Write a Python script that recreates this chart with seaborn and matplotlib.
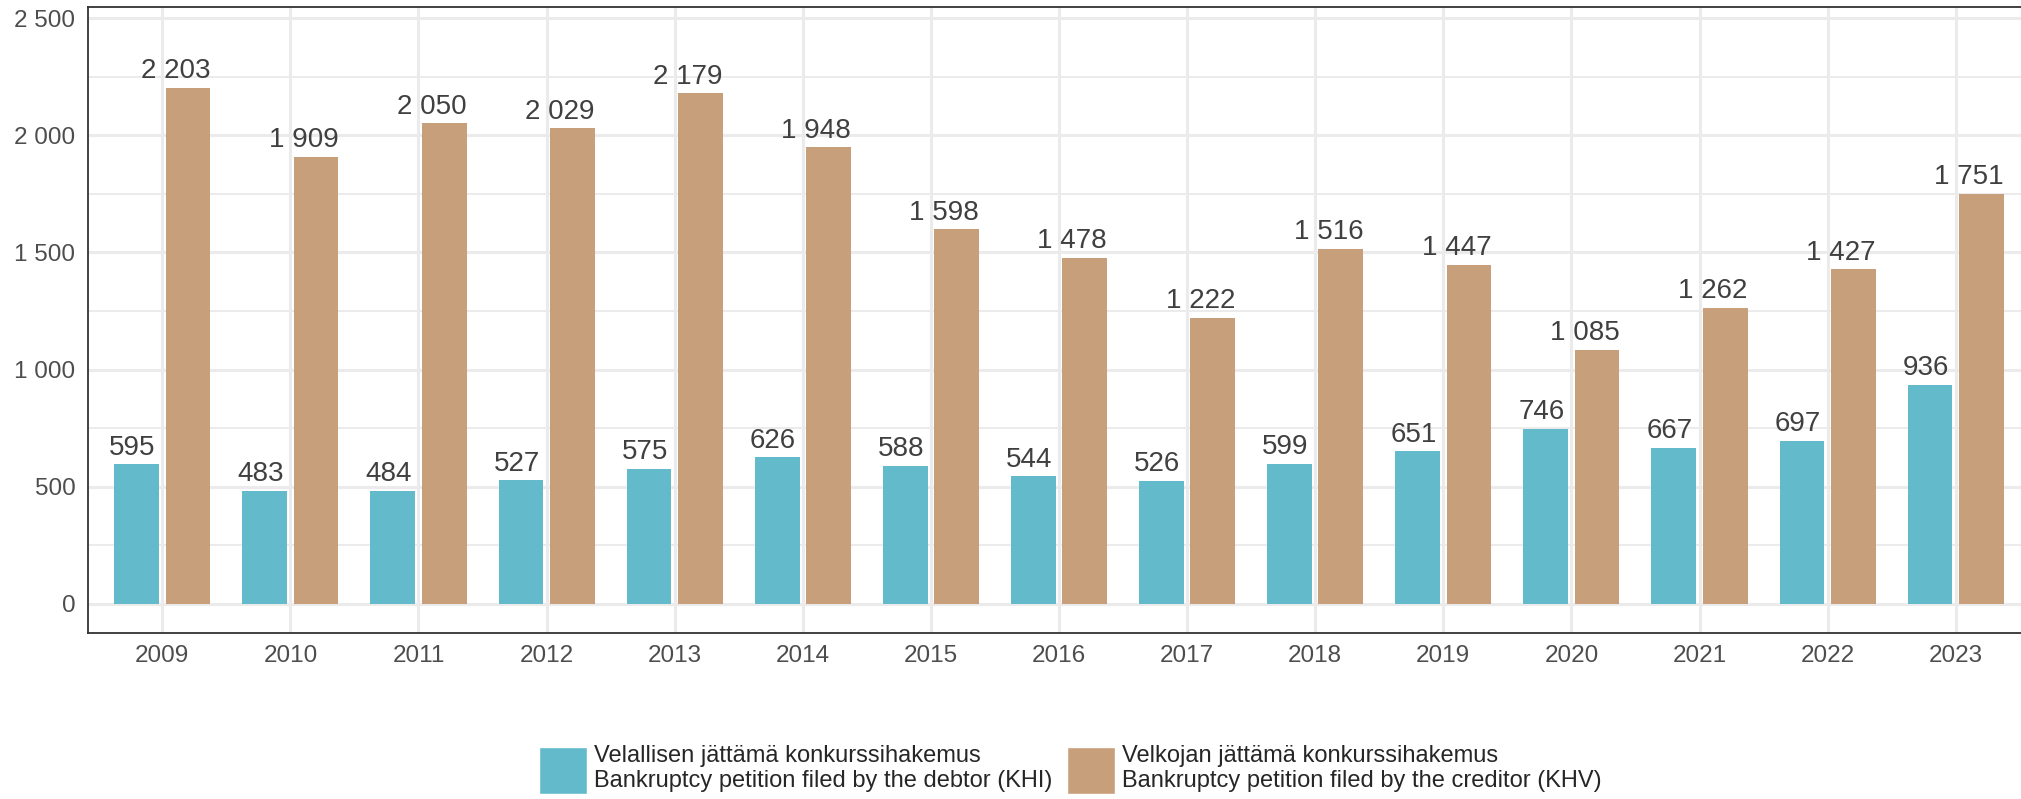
import pandas as pd
import numpy as np
import seaborn as sns
import matplotlib.pyplot as plt
from matplotlib.patches import Patch
from matplotlib.ticker import FuncFormatter, MultipleLocator

years = [str(y) for y in range(2009, 2024)]
debtor = [595, 483, 484, 527, 575, 626, 588, 544, 526, 599, 651, 746, 667, 697, 936]
creditor = [2203, 1909, 2050, 2029, 2179, 1948, 1598, 1478, 1222, 1516, 1447, 1085, 1262, 1427, 1751]

lab_debtor = "Velallisen jättämä konkurssihakemus\nBankruptcy petition filed by the debtor (KHI)"
lab_creditor = "Velkojan jättämä konkurssihakemus\nBankruptcy petition filed by the creditor (KHV)"

df = pd.DataFrame({
    "year": years * 2,
    "count": debtor + creditor,
    "type": [lab_debtor] * len(years) + [lab_creditor] * len(years),
})

palette = {lab_debtor: "#63BACB", lab_creditor: "#C89F7B"}

sns.set_style("white")
plt.rcParams["font.family"] = ["Liberation Sans", "DejaVu Sans"]

fig = plt.figure(figsize=(20.21, 7.99), dpi=100)
ax = fig.add_axes([88 / 2021, 1 - 633 / 799, 1942 / 2021, 626 / 799])

sns.barplot(
    data=df,
    x="year",
    y="count",
    hue="type",
    palette=palette,
    saturation=1,
    width=0.8,
    gap=0.125,
    linewidth=0,
    legend=False,
    ax=ax,
    zorder=3,
)

ax.set_xlim(-0.58, 14.58)
ax.set_ylim(-124, 2547)


def fmt(v, pos=None):
    return f"{int(v):,}".replace(",", " ")


ax.yaxis.set_major_locator(MultipleLocator(500))
ax.yaxis.set_minor_locator(MultipleLocator(250))
ax.yaxis.set_major_formatter(FuncFormatter(fmt))
ax.grid(True, which="major", axis="both", color="#EBEBEB", linewidth=2.2, zorder=0)
ax.grid(True, which="minor", axis="y", color="#EBEBEB", linewidth=1.4, zorder=0)
ax.set_axisbelow(True)

ax.set_xlabel("")
ax.set_ylabel("")
ax.tick_params(axis="both", which="major", labelsize=17.5, labelcolor="#4D4D4D",
               color="#333333", length=5, width=1.5, pad=4)
ax.tick_params(axis="y", which="minor", length=0)
for s in ax.spines.values():
    s.set_color("#333333")
    s.set_linewidth(1.3)

# value labels above bars
for cont, vals, dx in zip(ax.containers, [debtor, creditor], [-3, -9]):
    for bar, v in zip(cont, vals):
        ax.annotate(
            fmt(v),
            (bar.get_x() + bar.get_width() / 2, v),
            xytext=(dx, 7),
            textcoords="offset points",
            ha="center",
            va="baseline",
            fontsize=20,
            color="#404040",
            zorder=4,
        )

handles = [Patch(facecolor=palette[lab_debtor]), Patch(facecolor=palette[lab_creditor])]
fig.legend(
    handles,
    [lab_debtor, lab_creditor],
    loc="upper left",
    bbox_to_anchor=(539 / 2021, 1 - 745 / 799),
    ncol=2,
    frameon=False,
    fontsize=17,
    handlelength=2.04,
    handleheight=2.69,
    handletextpad=0.3,
    columnspacing=0.6,
    borderpad=0,
    borderaxespad=0,
)

fig.savefig("out.png", dpi=100)
